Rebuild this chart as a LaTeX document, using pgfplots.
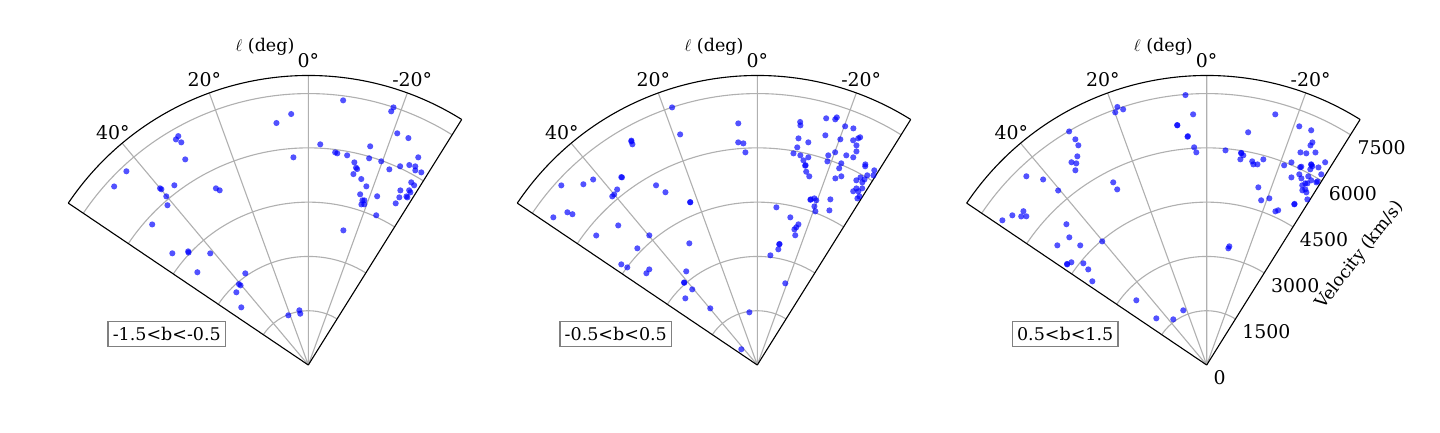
\documentclass[border=0pt]{standalone}
\usepackage{fontspec}
\setmainfont{DejaVu Serif}
\usepackage{pgfplots}
\usepackage{pgfplotstable}
\usepgfplotslibrary{polar}
\pgfplotsset{compat=1.18}

% longitude l (deg), velocity v (km/s)
\pgfplotstableread{
l v
3.9 6952
7.5 6745
4.1 5753
29.6 7275
30.4 7228
29.7 7084
30.9 6622
43.2 7344
47.4 7289
40.0 6374
39.9 6330
36.7 6194
40.1 6093
41.4 5886
27.6 5509
26.9 5413
-7.5 7377
-18.3 7498
-18.1 7375
-21.0 6858
-23.8 6854
-3.1 6107
-15.8 6281
-7.2 5923
-7.8 5904
-10.5 5893
-16.4 5955
-12.8 5743
-19.7 5979
-27.9 6494
-13.6 5610
-14.0 5580
-13.3 5421
-22.5 5852
-24.8 6050
-26.8 6191
-28.3 6235
-28.8 6138
-30.4 6172
-15.9 5344
-18.0 5191
-29.4 5795
-30.5 5764
-16.9 4930
-22.2 5036
-27.8 5455
-30.0 5575
-30.6 5542
-28.5 5272
-30.2 5391
-30.6 5380
-18.2 4789
-18.8 4807
-18.3 4675
-19.2 4702
-28.4 5078
-24.4 4543
48.0 5805
50.6 4863
46.6 4570
46.8 4540
41.3 4106
50.1 3996
34.5 3074
40.6 2945
40.4 2890
44.7 2827
49.3 2443
21.9 1480
9.3 1532
8.9 1435
-14.6 3845
}\dataA

\pgfplotstableread{
l v
18.3 7498
18.5 6720
4.5 6698
4.9 6175
3.6 6137
3.2 5886
29.4 7093
29.3 7110
29.5 7008
47.5 7347
43.9 6932
41.5 6845
35.8 6393
35.9 6410
38.6 6208
40.0 6153
40.7 6146
29.4 5700
28.0 5407
22.4 4862
22.4 4870
51.2 6735
50.8 6593
54.1 6959
51.2 5712
44.9 5445
39.8 4663
45.8 4625
53.5 4676
53.1 4493
48.5 3987
50.4 3978
29.2 3852
37.2 3249
41.6 3039
41.6 3050
40.7 2757
47.2 2711
39.7 2035
8.6 1473
45.5 620
-12.6 4181
-16.3 4050
-15.8 3954
-15.3 3886
-16.3 3735
-10.3 3390
-10.4 3400
-10.3 3249
-6.8 3052
-18.9 2386
-10.0 6819
-10.2 6729
-15.6 7078
-17.6 7123
-17.8 7187
-20.2 7029
-22.1 7057
-10.3 6366
-12.9 6313
-16.5 6620
-20.2 6645
-23.1 6751
-24.0 6857
-24.3 6905
-24.3 6659
-10.4 6115
-9.7 5933
-11.6 5915
-12.7 5797
-13.8 5909
-18.7 6117
-19.0 5951
-20.1 6260
-23.0 6294
-24.8 6322
-24.9 6507
-13.5 5664
-13.6 5680
-14.2 5510
-15.4 5408
-22.6 6037
-22.6 5888
-22.7 5590
-24.0 5708
-28.3 6297
-28.5 6249
-28.2 5791
-28.8 5916
-30.0 5922
-29.9 5822
-30.1 6059
-31.5 6144
-31.0 6276
-29.3 5596
-28.9 5484
-30.2 5552
-30.7 5679
-31.2 5447
-31.0 5371
-17.8 4796
-17.9 4810
-18.9 4868
-19.7 4834
-19.8 4659
-20.7 4539
-23.8 5003
-25.0 4714
-6.9 4389
}\dataB

\pgfplotstableread{
l v
4.5 7483
3.1 6937
7.0 6673
7.0 6680
4.8 6330
4.7 6345
3.3 6026
2.8 5883
19.1 7545
19.9 7425
18.1 7432
30.5 7491
30.2 7216
30.3 7031
31.8 6785
33.7 6735
32.9 6636
34.0 6490
43.7 7214
41.4 6835
40.4 6333
27.1 5670
27.0 5446
52.4 6780
51.3 6567
50.5 6460
50.0 6612
54.7 6919
44.9 5492
47.1 5183
51.3 5289
46.6 4810
40.2 4473
54.2 4752
54.1 4765
52.8 4695
50.5 4418
51.1 4206
53.8 3917
47.4 2642
47.2 1898
36.2 1564
23.2 1644
-10.8 3338
-10.5 3279
-15.3 7181
-10.1 6532
-21.2 7074
-24.0 7100
-25.4 6810
-25.3 6711
-5.0 5955
-9.3 5927
-9.2 5940
-9.9 5882
-9.3 5759
-12.6 5767
-13.1 5692
-14.2 5719
-15.4 5894
-23.8 6421
-25.2 6465
-27.1 6598
-21.2 5919
-22.7 6069
-25.3 6044
-25.5 6071
-27.5 6253
-27.6 6240
-28.0 6217
-27.9 6118
-29.5 6273
-30.3 6489
-24.3 5689
-25.9 5858
-26.9 5783
-28.3 5921
-31.0 6147
-31.1 5925
-29.5 5865
-29.0 5739
-28.5 5712
-28.0 5624
-28.7 5503
-29.3 5567
-30.0 5509
-31.0 5887
-31.3 5356
-28.6 5057
-28.6 5070
-16.2 5113
-20.6 4920
-18.3 4794
-24.1 4651
-24.8 4710
}\dataC

\pgfplotsset{
  wedge/.style={
    xmin=58, xmax=146, ymin=0, ymax=8000,
    scale only axis, width=416.88pt, height=416.88pt,
    anchor=south west,
    xtick={70,90,110,130}, xticklabels={-20°,0°,20°,40°},
    xticklabel style={anchor=center,
      xshift={10.4pt*cos(\tick)}, yshift={10.4pt*sin(\tick)}},
    ytick={0,1500,3000,4500,6000,7500},
    grid=major, grid style={black!31, line width=0.8pt},
    axis line style={black, line width=0.8pt},
    major tick length=0pt,
    ticklabel style={font=\fontsize{13.6}{16}\selectfont},
  },
  pts/.style={only marks, mark=*, mark size=2.2pt, color=blue,
    mark options={solid, fill=blue, draw=blue, draw opacity=0, fill opacity=0.68}},
}

\begin{document}
\begin{tikzpicture}
\path (0,0) rectangle (1036.8pt,311.04pt);

\begin{polaraxis}[wedge, at={(49.18pt,48.24pt)}, yticklabels={}]
\addplot[pts] table[x expr=\thisrow{l}+90, y=v] {\dataA};
\end{polaraxis}

\begin{polaraxis}[wedge, at={(372.46pt,48.24pt)}, yticklabels={}]
\addplot[pts] table[x expr=\thisrow{l}+90, y=v] {\dataB};
\end{polaraxis}

\begin{polaraxis}[wedge, at={(696.02pt,48.24pt)},
    yticklabels={0,1500,3000,4500,6000,7500},
    yticklabel style={anchor=north west, xshift=1.5pt, yshift=-0.7pt}]
\addplot[pts] table[x expr=\thisrow{l}+90, y=v] {\dataC};
\end{polaraxis}

\foreach \cx/\lab in {221.98/{-1.5<b<-0.5}, 545.26/{-0.5<b<0.5}, 868.82/{0.5<b<1.5}} {
  \node[font=\fontsize{12.6}{15}\selectfont] at ({\cx pt-31.2pt},277.2pt) {$\ell$ (deg)};
  \node[draw=black!50, line width=0.8pt, fill=white, inner xsep=3.4pt,
        minimum height=18pt, font=\fontsize{12.6}{15}\selectfont]
        at ({\cx pt-101.9pt},70.4pt) {\lab};
}
\node[rotate=52, font=\fontsize{12.6}{15}\selectfont] at (979.1pt,127.2pt) {Velocity (km/s)};
\end{tikzpicture}
\end{document}
